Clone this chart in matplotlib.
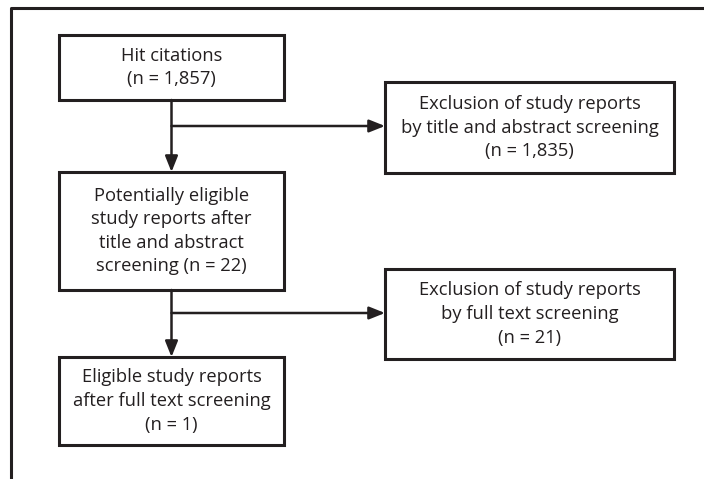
import matplotlib
matplotlib.use('Agg')
import matplotlib.pyplot as plt
from matplotlib.patches import Rectangle

ink = '#231f20'

# counts at each stage
hits = 1857
excluded_abstract = 1835
eligible_abstract = 22
excluded_fulltext = 21
included = 1

main_labels = [
    'Hit citations\n(n = {:,})'.format(hits),
    'Potentially eligible\nstudy reports after\ntitle and abstract\nscreening (n = {})'.format(eligible_abstract),
    'Eligible study reports\nafter full text screening\n(n = {})'.format(included),
]
side_labels = [
    'Exclusion of study reports\nby title and abstract screening\n(n = {:,})'.format(excluded_abstract),
    'Exclusion of study reports\nby full text screening\n(n = {})'.format(excluded_fulltext),
]

plt.rcParams['font.family'] = ['Open Sans', 'DejaVu Sans']

fig = plt.figure(figsize=(7.04, 4.79), dpi=100)
ax = fig.add_axes([0, 0, 1, 1])
ax.set_xlim(0, 704)
ax.set_ylim(479, 0)
ax.axis('off')

# outer frame (only top and left edges visible)
ax.plot([11, 11, 704], [479, 8, 8], color=ink, lw=2.2, solid_capstyle='butt')

def box(x0, y0, x1, y1, text):
    ax.add_patch(Rectangle((x0, y0), x1 - x0, y1 - y0, fill=False, ec=ink, lw=2.2))
    ax.text((x0 + x1) / 2, (y0 + y1) / 2, text, ha='center', va='center',
            fontsize=13.2, color=ink, linespacing=1.4)

main_boxes = [(59, 35, 284, 100), (59, 172, 284, 290), (59, 357, 284, 445)]
side_boxes = [(385, 82, 674, 173), (385, 269, 674, 359)]
branch_y = [126, 313]

for (x0, y0, x1, y1), t in zip(main_boxes, main_labels):
    box(x0, y0, x1, y1, t)
for (x0, y0, x1, y1), t in zip(side_boxes, side_labels):
    box(x0, y0, x1, y1, t)

cx = (main_boxes[0][0] + main_boxes[0][2]) / 2
arrow = dict(arrowstyle='-|>,head_length=0.95,head_width=0.38', color=ink, lw=1.8,
             shrinkA=0, shrinkB=0)
for i in range(2):
    top = main_boxes[i][3]
    nxt = main_boxes[i + 1][1]
    ax.annotate('', xy=(cx, nxt), xytext=(cx, top), arrowprops=arrow)
    ax.annotate('', xy=(side_boxes[i][0], branch_y[i]), xytext=(cx, branch_y[i]),
                arrowprops=arrow)

fig.savefig('out.png', dpi=100)
